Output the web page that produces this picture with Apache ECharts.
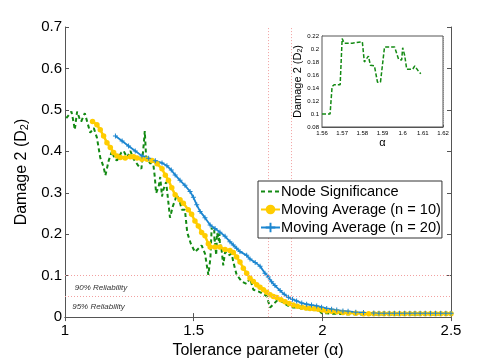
<!DOCTYPE html>
<html>
<head>
<meta charset="utf-8">
<script src="https://cdn.jsdelivr.net/npm/echarts@6/dist/echarts.min.js"></script>
<style>
  html, body { margin: 0; padding: 0; background: #fff; }
  #chart { width: 498px; height: 364px; }
</style>
</head>
<body>
<div id="chart"></div>
<script>
// Node significance (alpha, D2)
const nodeSig = [
  [1.005, 0.480], [1.012, 0.482], [1.025, 0.496], [1.034, 0.468], [1.038, 0.452],
  [1.047, 0.496], [1.056, 0.480], [1.063, 0.472], [1.077, 0.492], [1.086, 0.472],
  [1.098, 0.445], [1.112, 0.456], [1.124, 0.433], [1.137, 0.385], [1.150, 0.362],
  [1.157, 0.342], [1.170, 0.378], [1.183, 0.401], [1.193, 0.381], [1.202, 0.378],
  [1.219, 0.397], [1.228, 0.401], [1.241, 0.385], [1.254, 0.401], [1.267, 0.381],
  [1.284, 0.366], [1.297, 0.358], [1.306, 0.417], [1.310, 0.449], [1.315, 0.389],
  [1.323, 0.378], [1.332, 0.370], [1.341, 0.381], [1.349, 0.338], [1.354, 0.299],
  [1.364, 0.315], [1.370, 0.338], [1.377, 0.291], [1.382, 0.307], [1.393, 0.326],
  [1.402, 0.275], [1.408, 0.240], [1.419, 0.267], [1.428, 0.283], [1.434, 0.295],
  [1.444, 0.283], [1.454, 0.259], [1.466, 0.259], [1.475, 0.204], [1.489, 0.177],
  [1.505, 0.157], [1.518, 0.165], [1.531, 0.173], [1.544, 0.153], [1.557, 0.102],
  [1.560, 0.100], [1.564, 0.100], [1.565, 0.142], [1.566, 0.145], [1.569, 0.145],
  [1.570, 0.216], [1.571, 0.209], [1.575, 0.209], [1.580, 0.211], [1.581, 0.180],
  [1.583, 0.189], [1.584, 0.175], [1.586, 0.174], [1.5875, 0.149], [1.589, 0.149],
  [1.591, 0.203], [1.596, 0.203], [1.598, 0.184], [1.5995, 0.183], [1.600, 0.202],
  [1.601, 0.190], [1.602, 0.169], [1.605, 0.169], [1.606, 0.174], [1.608, 0.165],
  [1.609, 0.162], [1.615, 0.125], [1.622, 0.157], [1.635, 0.149], [1.648, 0.153],
  [1.654, 0.133], [1.667, 0.102], [1.687, 0.086], [1.706, 0.080], [1.719, 0.094],
  [1.732, 0.066], [1.751, 0.062], [1.771, 0.056], [1.784, 0.050], [1.797, 0.023],
  [1.816, 0.035], [1.829, 0.043], [1.848, 0.035], [1.868, 0.027], [1.887, 0.023],
  [1.907, 0.023], [1.926, 0.019], [1.952, 0.019], [1.972, 0.017], [1.991, 0.014],
  [1.998, 0.009], [2.017, 0.009], [2.050, 0.008], [2.100, 0.007], [2.200, 0.006],
  [2.300, 0.006], [2.400, 0.006], [2.500, 0.006]
]

// Moving average n = 10
const ma10 = [
  [1.107, 0.472], [1.124, 0.464], [1.137, 0.452], [1.150, 0.437], [1.163, 0.421],
  [1.176, 0.409], [1.189, 0.397], [1.202, 0.389], [1.215, 0.385], [1.234, 0.384],
  [1.254, 0.387], [1.267, 0.387], [1.280, 0.384], [1.299, 0.381], [1.319, 0.381],
  [1.338, 0.378], [1.358, 0.370], [1.377, 0.358], [1.390, 0.342], [1.402, 0.330],
  [1.415, 0.312], [1.428, 0.295], [1.447, 0.283], [1.460, 0.275], [1.479, 0.259],
  [1.492, 0.248], [1.505, 0.232], [1.518, 0.220], [1.531, 0.204], [1.544, 0.196],
  [1.557, 0.177], [1.564, 0.169], [1.583, 0.169], [1.602, 0.169], [1.622, 0.163],
  [1.641, 0.161], [1.654, 0.156], [1.667, 0.145], [1.680, 0.133], [1.693, 0.118],
  [1.706, 0.106], [1.719, 0.094], [1.732, 0.086], [1.745, 0.078], [1.758, 0.072],
  [1.771, 0.066], [1.784, 0.060], [1.797, 0.054], [1.810, 0.050], [1.823, 0.047],
  [1.839, 0.042], [1.855, 0.037], [1.871, 0.033], [1.887, 0.029], [1.903, 0.026],
  [1.920, 0.024], [1.936, 0.022], [1.952, 0.021], [1.968, 0.020], [1.984, 0.019],
  [2.000, 0.017], [2.017, 0.015], [2.036, 0.014], [2.056, 0.013], [2.080, 0.011],
  [2.100, 0.010], [2.130, 0.009], [2.160, 0.008], [2.180, 0.008], [2.200, 0.008],
  [2.220, 0.008], [2.240, 0.008], [2.260, 0.008], [2.280, 0.008], [2.300, 0.008],
  [2.320, 0.008], [2.340, 0.008], [2.360, 0.008], [2.380, 0.008], [2.400, 0.008],
  [2.420, 0.008], [2.440, 0.008], [2.460, 0.008], [2.480, 0.008], [2.500, 0.008]
]

// Moving average n = 20
const ma20 = [
  [1.196, 0.437], [1.222, 0.425], [1.247, 0.413], [1.273, 0.401], [1.299, 0.389],
  [1.325, 0.383], [1.351, 0.377], [1.377, 0.372], [1.396, 0.365], [1.413, 0.355],
  [1.428, 0.343], [1.447, 0.330], [1.466, 0.318], [1.486, 0.303], [1.499, 0.289],
  [1.512, 0.271], [1.525, 0.255], [1.544, 0.240], [1.564, 0.222], [1.583, 0.214],
  [1.602, 0.205], [1.622, 0.195], [1.641, 0.182], [1.654, 0.174], [1.667, 0.166],
  [1.680, 0.158], [1.706, 0.149], [1.719, 0.140], [1.739, 0.132], [1.758, 0.123],
  [1.777, 0.106], [1.790, 0.097], [1.803, 0.085], [1.816, 0.076], [1.836, 0.064],
  [1.852, 0.055], [1.868, 0.048], [1.884, 0.043], [1.900, 0.039], [1.920, 0.034],
  [1.939, 0.031], [1.958, 0.029], [1.978, 0.027], [1.997, 0.024], [2.017, 0.021],
  [2.036, 0.019], [2.056, 0.017], [2.080, 0.015], [2.100, 0.014], [2.130, 0.012],
  [2.160, 0.011], [2.200, 0.010], [2.220, 0.009], [2.240, 0.009], [2.260, 0.009],
  [2.280, 0.009], [2.300, 0.009], [2.320, 0.009], [2.340, 0.009], [2.360, 0.009],
  [2.380, 0.009], [2.400, 0.009], [2.420, 0.009], [2.440, 0.009], [2.460, 0.009],
  [2.480, 0.009], [2.500, 0.009]
]

// reliability guide lines
const relLevels = [0.1, 0.05]
const relAlphas = [1.79, 1.88]
const relLabels = [
  { text: '90% Reliability', coord: [1.14, 0.070] },
  { text: '95% Reliability', coord: [1.13, 0.025] }
]

// inset window
const insetRange = [1.56, 1.61]

const GREEN = '#138a13'
const YELLOW = '#ffcc00'
const BLUE = '#1c86d0'
const AXIS = '#555'
const FONT = 'Liberation Sans'
const plusPath = 'path://M-0.6,-3H0.6V-0.6H3V0.6H0.6V3H-0.6V0.6H-3V-0.6H-0.6Z'

const chart = echarts.init(document.getElementById('chart'))

const boxAxis = (extra) => Object.assign({
  axisLine: { show: true, lineStyle: { color: AXIS } },
  axisTick: { show: true, inside: true, length: 4, lineStyle: { color: AXIS } },
  axisLabel: { show: false },
  splitLine: { show: false }
}, extra)

const option = {
  animation: false,
  backgroundColor: '#fff',
  textStyle: { fontFamily: FONT },
  grid: [
    { left: 65, top: 27, right: 47, bottom: 41 },
    { left: 322, top: 36, width: 121, height: 91, show: true, borderColor: AXIS, backgroundColor: '#fff', z: 5 }
  ],
  legend: {
    left: 258,
    top: 181,
    orient: 'vertical',
    itemGap: 3,
    itemWidth: 19,
    itemHeight: 12,
    padding: [3, 1, 3, 2],
    borderColor: '#333',
    borderWidth: 1,
    backgroundColor: '#fff',
    z: 10,
    textStyle: { fontSize: 14.6, color: '#000', fontFamily: FONT, padding: [0, 0, 0, -4] },
    data: [
      { name: 'Node Significance', itemStyle: { opacity: 0 } },
      { name: 'Moving Average (n = 10)' },
      { name: 'Moving Average (n = 20)' }
    ]
  },
  xAxis: [
    boxAxis({
      type: 'value', gridIndex: 0, min: 1, max: 2.5, interval: 0.5,
      axisLabel: { show: true, fontSize: 15, color: '#000', margin: 6 },
      name: 'Tolerance parameter (α)', nameLocation: 'middle', nameGap: 23,
      nameTextStyle: { fontSize: 16, color: '#000' }
    }),
    boxAxis({ type: 'value', gridIndex: 0, min: 1, max: 2.5, interval: 0.5, position: 'top' }),
    boxAxis({
      type: 'value', gridIndex: 1, min: 1.56, max: 1.62, interval: 0.01,
      axisTick: { show: true, inside: true, length: 2, lineStyle: { color: AXIS } },
      axisLabel: { show: true, fontSize: 6, color: '#000', margin: 3 },
      splitLine: { show: true, lineStyle: { color: '#bbb', type: 'dotted' } },
      name: 'α', nameLocation: 'middle', nameGap: 10,
      nameTextStyle: { fontSize: 11, color: '#000' }
    })
  ],
  yAxis: [
    boxAxis({
      type: 'value', gridIndex: 0, min: 0, max: 0.7, interval: 0.1,
      axisLabel: { show: true, fontSize: 15, color: '#000', margin: 3 },
      name: 'Damage 2 (D{sub|2})', nameLocation: 'middle', nameGap: 28,
      nameTextStyle: {
        fontSize: 16, color: '#000',
        rich: { sub: { fontSize: 11, verticalAlign: 'bottom', padding: [6, 0, 0, 0] } }
      }
    }),
    boxAxis({ type: 'value', gridIndex: 0, min: 0, max: 0.7, interval: 0.1, position: 'right' }),
    boxAxis({
      type: 'value', gridIndex: 1, min: 0.08, max: 0.22, interval: 0.02,
      axisTick: { show: true, inside: true, length: 2, lineStyle: { color: AXIS } },
      axisLabel: { show: true, fontSize: 6, color: '#000', margin: 3 },
      name: 'Damage 2 (D{sub|2})', nameLocation: 'middle', nameGap: 17,
      nameTextStyle: {
        fontSize: 11, color: '#000',
        rich: { sub: { fontSize: 7, padding: [4, 0, 0, 0] } }
      }
    })
  ],
  series: [
    {
      name: 'Node Significance',
      type: 'line',
      xAxisIndex: 0,
      yAxisIndex: 0,
      data: nodeSig,
      symbol: 'none',
      color: GREEN,
      lineStyle: { color: GREEN, width: 2, type: [4, 3] },
      markLine: {
        silent: true,
        symbol: 'none',
        label: { show: false },
        lineStyle: { color: '#f2a0a0', type: [1, 2], width: 1 },
        data: relLevels.map(v => ({ yAxis: v })).concat(relAlphas.map(a => ({ xAxis: a })))
      },
      markPoint: {
        silent: true,
        symbolSize: 0,
        label: { show: true, position: 'inside', fontSize: 8, fontStyle: 'italic', color: '#333', formatter: p => p.name },
        data: relLabels.map(r => ({ name: r.text, coord: r.coord }))
      }
    },
    {
      name: 'Moving Average (n = 10)',
      type: 'line',
      xAxisIndex: 0,
      yAxisIndex: 0,
      data: ma10,
      symbol: 'circle',
      symbolSize: 5.5,
      color: YELLOW,
      itemStyle: { color: YELLOW },
      lineStyle: { color: YELLOW, width: 2.5 }
    },
    {
      name: 'Moving Average (n = 20)',
      type: 'line',
      xAxisIndex: 0,
      yAxisIndex: 0,
      data: ma20,
      symbol: plusPath,
      symbolSize: 5,
      color: BLUE,
      itemStyle: { color: BLUE },
      lineStyle: { color: BLUE, width: 1.8 }
    },
    {
      name: 'inset',
      type: 'line',
      xAxisIndex: 2,
      yAxisIndex: 2,
      z: 6,
      data: nodeSig.filter(d => d[0] >= insetRange[0] && d[0] <= insetRange[1]),
      symbol: 'none',
      lineStyle: { color: GREEN, width: 1.5, type: [4, 2] }
    }
  ]
}

chart.setOption(option)
</script>
</body>
</html>
